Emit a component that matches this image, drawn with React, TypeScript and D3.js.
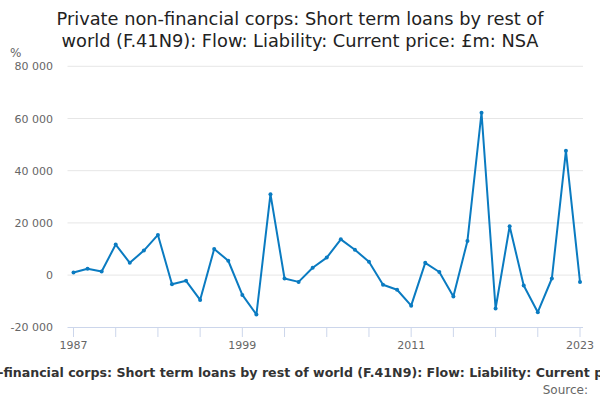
import React from "react";
import * as d3 from "d3";

const years = d3.range(1987, 2024);
const values = [
  1000, 2400, 1400, 11700, 4700, 9400, 15400, -3500, -2200, -9500, 10000, 5500,
  -7600, -15100, 31000, -1300, -2600, 2800, 6700, 13700, 9700, 5100, -3700,
  -5600, -11700, 4700, 1200, -8200, 13100, 62200, -12800, 18700, -4000, -14200,
  -1300, 47600, -2600,
];
const yTicks = [-20000, 0, 20000, 40000, 60000, 80000];
const xTicks = d3.range(1987, 2024, 3);
const xLabels = [1987, 1999, 2011, 2023];

const titleLines = [
  "Private non-financial corps: Short term loans by rest of",
  "world (F.41N9): Flow: Liability: Current price: £m: NSA",
];
const footerText =
  "Private non-financial corps: Short term loans by rest of world (F.41N9): Flow: Liability: Current price: £m: NSA";

const W = 600;
const H = 400;
const font = "'DejaVu Sans', sans-serif";

export default function App() {
  const x = d3.scaleLinear().domain([1987, 2023]).range([73.5, 580]);
  const y = d3.scaleLinear().domain([-20000, 80000]).range([327.3, 66.3]);

  const line = d3
    .line<number>()
    .x((_, i) => x(years[i]))
    .y((d) => y(d));

  // space as thousands separator, plain hyphen for minus
  const fmt = (v: number) =>
    d3.format(",")(v).replace(/,/g, " ").replace("\u2212", "-");

  return (
    <svg
      width={W}
      height={H}
      style={{ position: "absolute", left: 0, top: 0, fontFamily: font }}
    >
      <rect width={W} height={H} fill="#fff" />
      {titleLines.map((t, i) => (
        <text
          key={i}
          x={300}
          y={25 + i * 22}
          textAnchor="middle"
          fontSize={17.8}
          fill="#222"
        >
          {t}
        </text>
      ))}
      <text x={10} y={57} fontSize={12} fill="#666">
        %
      </text>
      {yTicks.map((t) => (
        <g key={t}>
          {t !== -20000 && (
            <line
              x1={67.5}
              x2={583}
              y1={y(t)}
              y2={y(t)}
              stroke="#e6e6e6"
              strokeWidth={1}
            />
          )}
          <text
            x={53}
            y={y(t) + 4}
            textAnchor="end"
            fontSize={11}
            fill="#666"
          >
            {fmt(t)}
          </text>
        </g>
      ))}
      <line x1={67.5} x2={583} y1={327.5} y2={327.5} stroke="#ccd6eb" />
      {xTicks.map((t) => (
        <line
          key={t}
          x1={x(t)}
          x2={x(t)}
          y1={327.5}
          y2={337}
          stroke="#ccd6eb"
        />
      ))}
      {xLabels.map((t) => (
        <text
          key={t}
          x={x(t)}
          y={349}
          textAnchor="middle"
          fontSize={11}
          fill="#666"
        >
          {t}
        </text>
      ))}
      <path
        d={line(values) || ""}
        fill="none"
        stroke="#0a7bc1"
        strokeWidth={2}
        strokeLinejoin="round"
      />
      {values.map((v, i) => (
        <circle key={i} cx={x(years[i])} cy={y(v)} r={2} fill="#0a7bc1" />
      ))}
      <text
        x={308}
        y={377}
        textAnchor="middle"
        fontSize={12.6}
        fontWeight="bold"
        fill="#333"
      >
        {footerText}
      </text>
      <text x={588} y={394} textAnchor="end" fontSize={12} fill="#666">
        Source:
      </text>
    </svg>
  );
}
